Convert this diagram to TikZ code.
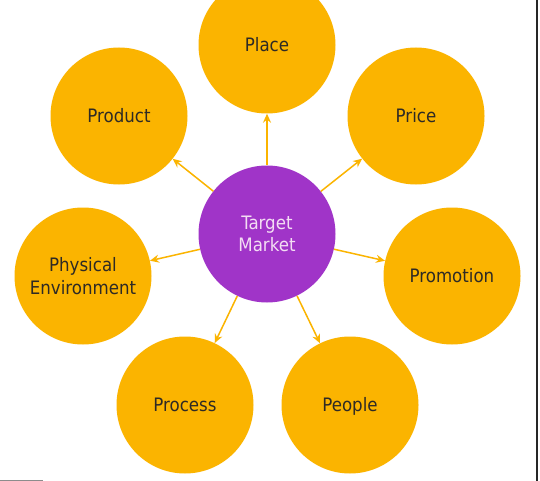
\documentclass[tikz,border=0pt]{standalone}
\usepackage{fontspec}
\setmainfont{DejaVu Sans Condensed}
\usetikzlibrary{arrows.meta}
\definecolor{orng}{HTML}{FBB400}
\definecolor{purp}{HTML}{A034C8}
\definecolor{txt}{HTML}{2E2A25}
\definecolor{ptxt}{HTML}{F3DDF3}
\tikzset{
  outer/.style={circle, fill=orng, minimum size=137pt, inner sep=0pt, text=txt, font=\fontsize{18.5}{22.5}\selectfont, align=center},
  oneline/.style={text height=13.5pt, text depth=0pt},
  center/.style={circle, fill=purp, minimum size=137pt, inner sep=0pt, text=ptxt, font=\fontsize{18.5}{22}\selectfont, align=center},
  link/.style={draw=orng, line width=1.5pt, -{Stealth[length=9pt,width=8pt,inset=3pt]}}
}
\begin{document}
\begin{tikzpicture}[x=1pt,y=-1pt]
\useasboundingbox (0,0) rectangle (540,481);
\fill[white] (0,0) rectangle (540,481);
\node[center] (tm) at (267,234) {Target\\Market};
\node[outer,oneline] (place) at (267,45) {Place};
\node[outer,oneline] (product) at (119,116) {Product};
\node[outer,oneline] (price) at (416,116) {Price};
\node[outer] (phys) at (83,276) {Physical\\Environment};
\node[outer,oneline] (promo) at (452,276) {Promotion};
\node[outer,oneline] (proc) at (185,405) {Process};
\node[outer,oneline] (people) at (350,405) {People};
\foreach \t in {place,product,price,phys,promo,proc,people}
  \draw[link] (tm) -- (\t);
\draw[draw=black!85, line width=2pt] (537,0) -- (537,481);
\draw[draw=black!45, line width=1pt] (0,480.5) -- (43,480.5);
\end{tikzpicture}
\end{document}
